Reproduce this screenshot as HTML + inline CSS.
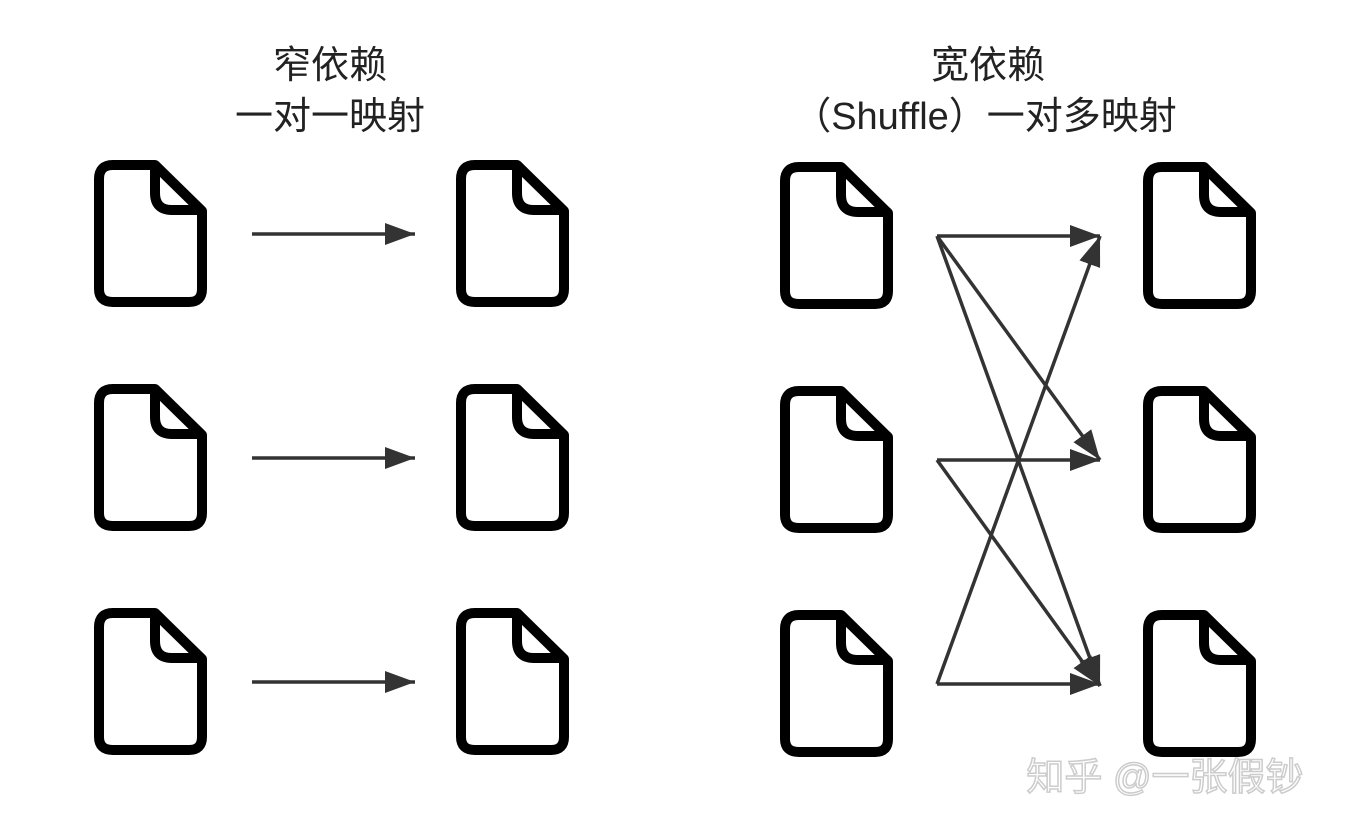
<html><head><style>
body{margin:0;background:#fff;width:1348px;height:834px;overflow:hidden;font-family:"Liberation Sans","Noto Sans CJK SC",sans-serif}
</style></head><body>
<svg width="1348" height="834" viewBox="0 0 1348 834" xmlns="http://www.w3.org/2000/svg">
<defs>
<g id="doc" fill="none" stroke="#000" stroke-width="10" stroke-linejoin="round">
<path d="M14,0 H56 L103,46 V124 Q103,137 90,137 H14 Q0,137 0,124 V14 Q0,0 14,0 Z"/>
<path d="M56,0 V28 Q56,45 73,45 H103"/>
</g>
<marker id="a" viewBox="0 0 30 22" refX="30" refY="11" markerWidth="30" markerHeight="22" orient="auto" markerUnits="userSpaceOnUse"><path d="M0,0 L30,11 L0,22 Z" fill="#333"/></marker>
</defs>
<g font-size="38" text-anchor="middle" fill="#222">
<text x="330" y="78">窄依赖</text>
<text x="330" y="129">一对一映射</text>
<text x="988" y="78">宽依赖</text>
<text x="985" y="129">（Shuffle）一对多映射</text>
</g>
<use href="#doc" x="99" y="165"/><use href="#doc" x="99" y="389"/><use href="#doc" x="99" y="613"/>
<use href="#doc" x="461" y="165"/><use href="#doc" x="461" y="389"/><use href="#doc" x="461" y="613"/>
<use href="#doc" x="785" y="167"/><use href="#doc" x="785" y="391"/><use href="#doc" x="785" y="615"/>
<use href="#doc" x="1148" y="167"/><use href="#doc" x="1148" y="391"/><use href="#doc" x="1148" y="615"/>
<g stroke="#333" stroke-width="3.5" fill="none" marker-end="url(#a)">
<line x1="252" y1="234" x2="415" y2="234"/>
<line x1="252" y1="458" x2="415" y2="458"/>
<line x1="252" y1="682" x2="415" y2="682"/>
<line x1="937" y1="236" x2="1100" y2="236"/>
<line x1="937" y1="236" x2="1100" y2="460"/>
<line x1="937" y1="236" x2="1100" y2="686"/>
<line x1="937" y1="460" x2="1100" y2="460"/>
<line x1="937" y1="460" x2="1100" y2="686"/>
<line x1="937" y1="684" x2="1100" y2="684"/>
<line x1="937" y1="684" x2="1100" y2="236"/>
</g>
<text x="1165" y="790" font-size="38" text-anchor="middle" fill="#fff" stroke="#ccc" stroke-width="1.5">知乎 @一张假钞</text>
</svg>
</body></html>
